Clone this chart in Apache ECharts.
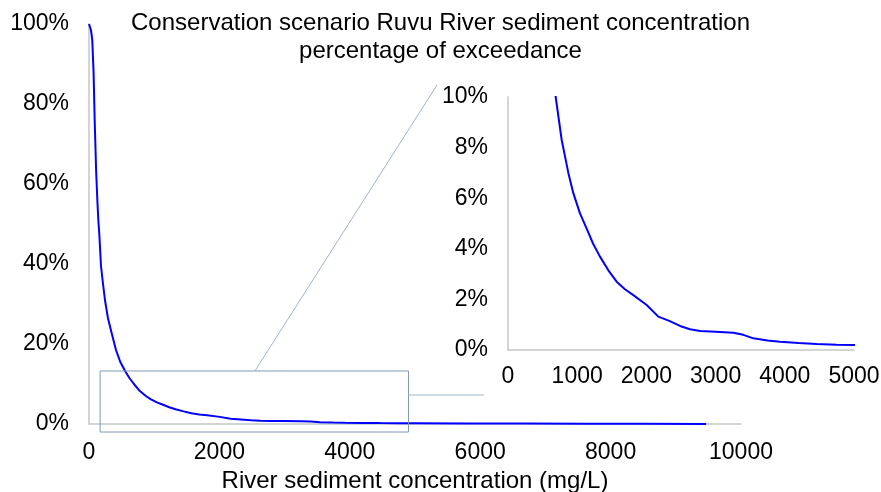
<!DOCTYPE html>
<html>
<head>
<meta charset="utf-8">
<script src="https://cdn.jsdelivr.net/npm/echarts@6/dist/echarts.min.js"></script>
<style>
  html, body { margin: 0; padding: 0; background: #fff; }
  #main { width: 881px; height: 492px; }
</style>
</head>
<body>
<div id="main"></div>
<script>
// concentration (mg/L) vs percentage of exceedance (%)
var concentration = [0, 15, 30, 50, 70, 87, 110, 128, 143, 158, 184, 215, 245, 290, 348, 414, 480, 562, 620, 689,
    776, 872, 944, 1040, 1137, 1230, 1329, 1450, 1570, 1690, 1811, 2004, 2172, 2330, 2486, 2630, 2775, 3000, 3256,
    3400, 3545, 3750, 3931, 4200, 4460, 4750, 5015, 5800, 6700, 7600, 8500, 9465];
var exceedance = [100, 99.7, 98.5, 96, 88, 76, 63, 56, 51, 47.5, 39.5, 35, 31, 26.5, 22.7, 18.5, 15.5, 13, 11.5, 10,
    8.3, 7.0, 6.2, 5.4, 4.8, 4.2, 3.69, 3.15, 2.7, 2.4, 2.17, 1.78, 1.32, 1.15, 0.95, 0.82, 0.75, 0.72, 0.68,
    0.6, 0.46, 0.38, 0.33, 0.28, 0.24, 0.21, 0.2, 0.15, 0.1, 0.07, 0.04, 0.01];

var mainTicksX = [0, 10000, 2000];   // min, max, interval
var mainTicksY = [0, 100, 20];
var insetTicksX = [0, 5000, 1000];
var insetTicksY = [0, 10, 2];

// zoom box drawn on the main chart (data units)
var boxX = [170, 4900];
var boxY = [-2, 13.25];

var points = concentration.map(function (c, i) { return [c, exceedance[i]]; });

var font = 'Liberation Sans, Arial, sans-serif';
var axisGrey = '#c6c6c6';

function axisX(ticks, grid, margin) {
    return {
        type: 'value', gridIndex: grid,
        min: ticks[0], max: ticks[1], interval: ticks[2],
        axisLine: { show: true, lineStyle: { color: axisGrey, width: 1.5 } },
        axisTick: { show: false },
        splitLine: { show: false },
        axisLabel: {
            color: '#000', fontSize: 23, fontFamily: font, margin: margin,
            formatter: function (v) { return String(v); }
        }
    };
}
function axisY(ticks, grid) {
    return {
        type: 'value', gridIndex: grid,
        min: ticks[0], max: ticks[1], interval: ticks[2],
        axisLine: { show: true, lineStyle: { color: axisGrey, width: 1.5 } },
        axisTick: { show: false },
        splitLine: { show: false },
        axisLabel: { color: '#000', fontSize: 23, fontFamily: font, margin: 20, formatter: '{value}%' }
    };
}

var dom = document.getElementById('main');
var myChart = echarts.init(dom, null, { renderer: 'canvas' });

var mainX = axisX(mainTicksX, 0, 17);
mainX.name = 'River sediment concentration (mg/L)';
mainX.nameLocation = 'middle';
mainX.nameGap = 42;
mainX.nameTextStyle = { color: '#000', fontSize: 24, fontFamily: font };

var option = {
    animation: false,
    title: {
        text: 'Conservation scenario Ruvu River sediment concentration\npercentage of exceedance',
        left: 'center', top: 4,
        textStyle: { color: '#000', fontSize: 24, fontWeight: 'normal', fontFamily: font, lineHeight: 28 }
    },
    grid: [
        { left: 89, top: 24, width: 652, height: 400, outerBoundsMode: 'none' },
        { left: 508, top: 97, width: 346, height: 253, outerBoundsMode: 'none' }
    ],
    xAxis: [mainX, axisX(insetTicksX, 1, 15)],
    yAxis: [axisY(mainTicksY, 0), axisY(insetTicksY, 1)],
    series: [
        {
            type: 'line', xAxisIndex: 0, yAxisIndex: 0, data: points,
            showSymbol: false, lineStyle: { color: '#0000ff', width: 2 }, z: 3
        },
        {
            type: 'line', xAxisIndex: 1, yAxisIndex: 1, data: points, clip: true,
            showSymbol: false, lineStyle: { color: '#0000ff', width: 2 }
        }
    ]
};
myChart.setOption(option);

// zoom box and connector lines, placed through the main chart's scales
var p0 = myChart.convertToPixel({ gridIndex: 0 }, [boxX[0], boxY[1]]);
var p1 = myChart.convertToPixel({ gridIndex: 0 }, [boxX[1], boxY[0]]);
var topMid = myChart.convertToPixel({ gridIndex: 0 }, [2544, boxY[1]]);
var rightMid = myChart.convertToPixel({ gridIndex: 0 }, [boxX[1], 7.25]);

myChart.setOption({
    graphic: [
        {
            type: 'rect', z: 10,
            shape: { x: p0[0], y: p0[1], width: p1[0] - p0[0], height: p1[1] - p0[1] },
            style: { fill: 'none', stroke: '#7e98b9', lineWidth: 1 }
        },
        {
            type: 'line', z: 10,
            shape: { x1: topMid[0], y1: topMid[1], x2: 437, y2: 85 },
            style: { stroke: '#9fb3cf', lineWidth: 1 }
        },
        {
            type: 'line', z: 10,
            shape: { x1: rightMid[0], y1: rightMid[1], x2: 484, y2: rightMid[1] },
            style: { stroke: '#9fb3cf', lineWidth: 1 }
        }
    ]
});
window.addEventListener('resize', myChart.resize);
</script>
</body>
</html>
